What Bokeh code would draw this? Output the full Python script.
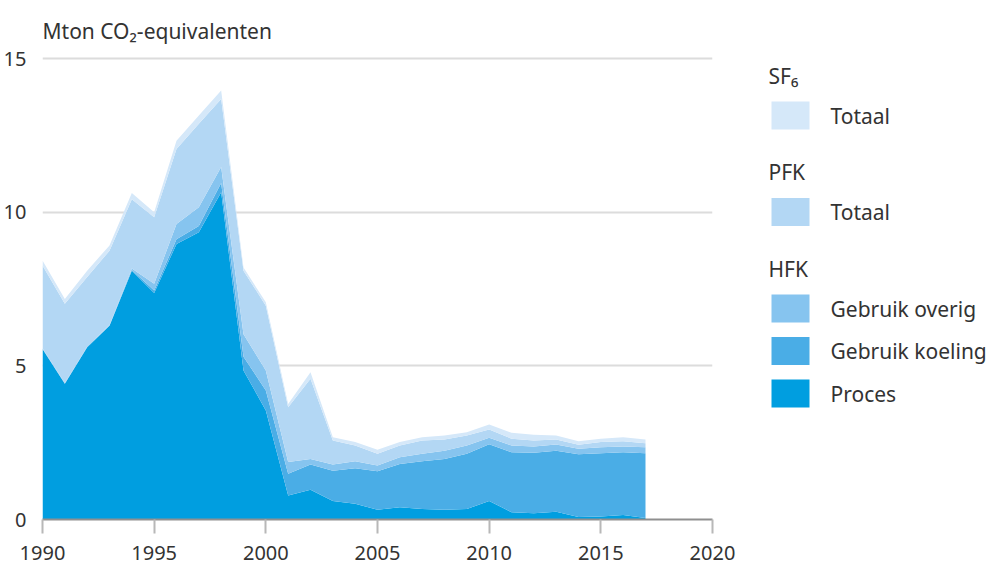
from bokeh.plotting import figure
from bokeh.models import ColumnDataSource, Range1d, FixedTicker
from bokeh.layouts import row
from bokeh.embed import file_html
from bokeh.resources import INLINE
from bokeh.core.properties import value

years = list(range(1990, 2018))
proces = [5.55, 4.42, 5.61, 6.31, 8.10, 7.37, 8.97, 9.35, 10.65, 4.85, 3.55, 0.78, 0.97, 0.60,
          0.51, 0.32, 0.40, 0.34, 0.32, 0.34, 0.60, 0.24, 0.20, 0.25, 0.08, 0.10, 0.15, 0.05]
koeling = [0.0, 0.0, 0.0, 0.0, 0.02, 0.08, 0.15, 0.20, 0.30, 0.45, 0.65, 0.71, 0.82, 0.99,
           1.16, 1.25, 1.41, 1.56, 1.65, 1.80, 1.85, 1.95, 1.97, 1.99, 2.04, 2.06, 2.04, 2.11]
overig = [0.02, 0.02, 0.02, 0.02, 0.05, 0.22, 0.50, 0.61, 0.52, 0.73, 0.65, 0.38, 0.18, 0.20,
          0.23, 0.19, 0.22, 0.24, 0.27, 0.27, 0.21, 0.22, 0.21, 0.20, 0.18, 0.19, 0.19, 0.19]
pfk = [2.70, 2.58, 2.26, 2.42, 2.25, 2.17, 2.44, 2.72, 2.22, 2.07, 2.11, 1.78, 2.61, 0.78,
       0.51, 0.38, 0.38, 0.43, 0.36, 0.32, 0.27, 0.22, 0.19, 0.16, 0.13, 0.17, 0.17, 0.13]
sf6 = [0.16, 0.16, 0.21, 0.17, 0.21, 0.16, 0.27, 0.27, 0.27, 0.10, 0.11, 0.11, 0.21, 0.11,
       0.11, 0.13, 0.11, 0.11, 0.13, 0.11, 0.16, 0.19, 0.19, 0.13, 0.12, 0.11, 0.13, 0.12]

series_keys = ["proces", "koeling", "overig", "pfk", "sf6"]
series_colors = ["#009ee0", "#4aade6", "#86c4ef", "#b3d7f4", "#d5e8f9"]

x_ticks = [1990, 1995, 2000, 2005, 2010, 2015, 2020]
y_ticks = [0, 5, 10, 15]

legend_groups = [("SF₆", [("Totaal", "#d5e8f9")]),
                 ("PFK", [("Totaal", "#b3d7f4")]),
                 ("HFK", [("Gebruik overig", "#86c4ef"),
                          ("Gebruik koeling", "#4aade6"),
                          ("Proces", "#009ee0")])]

FONT = "Noto Sans"
TXT = "#333333"

source = ColumnDataSource(dict(year=years, proces=proces, koeling=koeling,
                               overig=overig, pfk=pfk, sf6=sf6))

W1, W2, H = 740, 249, 569
TOP, BOTTOM = 52, 519
p = figure(width=W1, height=H, output_backend="svg", toolbar_location=None,
           x_range=Range1d(1990, 2020), y_range=Range1d(0, 15.2),
           min_border_left=42, min_border_right=28, min_border_top=TOP,
           min_border_bottom=H - BOTTOM)
p.outline_line_color = None
p.background_fill_color = "white"
p.varea_stack(stackers=series_keys, x="year", color=series_colors, source=source)

p.title.text = "Mton CO₂-equivalenten"
p.title.text_font = FONT
p.title.text_font_size = "21px"
p.title.text_font_style = "normal"
p.title.text_color = TXT
p.title.align = "left"
p.title.standoff = 15

p.xgrid.grid_line_color = None
p.ygrid.ticker = FixedTicker(ticks=[5, 10, 15])
p.ygrid.grid_line_color = "#dcdcdc"
p.ygrid.grid_line_width = 2

xa = p.xaxis[0]
xa.ticker = FixedTicker(ticks=x_ticks)
xa.axis_line_color = "#8f8f8f"
xa.axis_line_width = 2
xa.major_tick_line_color = "#b8b8b8"
xa.major_tick_line_width = 2
xa.major_tick_out = 14
xa.major_tick_in = 0
xa.minor_tick_line_color = None
xa.major_label_text_font = FONT
xa.major_label_text_font_size = "20px"
xa.major_label_text_color = TXT
xa.major_label_standoff = 12

ya = p.yaxis[0]
ya.ticker = FixedTicker(ticks=y_ticks)
ya.axis_line_color = None
ya.major_tick_line_color = None
ya.minor_tick_line_color = None
ya.major_label_text_font = FONT
ya.major_label_text_font_size = "20px"
ya.major_label_text_color = TXT
ya.major_label_standoff = 10

# legend panel: its frame is aligned with the main frame, ranges map 1:1 to canvas px
lg = figure(width=W2, height=H, output_backend="svg", toolbar_location=None,
            x_range=Range1d(W1, W1 + W2), y_range=Range1d(BOTTOM, TOP),
            x_axis_location=None, y_axis_location=None,
            min_border_left=0, min_border_right=0,
            min_border_top=TOP, min_border_bottom=H - BOTTOM)
lg.grid.visible = False
lg.outline_line_color = None

head_x, sw_x, txt_x = 768, 790, 830
hy, hx_t, sy, sc, tt = [], [], [], [], []
y = 75
for head, items in legend_groups:
    hy.append(y)
    hx_t.append(head)
    y += 40
    for label, col in items:
        sy.append(y)
        sc.append(col)
        tt.append(label)
        y += 42.5
    y += 14

lg.text(x=[head_x] * len(hy), y=hy, text=hx_t, text_font=value(FONT),
        text_font_size="21px", text_color=TXT, text_baseline="middle", text_align="left")
lg.rect(x=[sw_x] * len(sy), y=sy, width=38, height=28, fill_color=sc, line_color=None)
lg.text(x=[txt_x] * len(sy), y=sy, text=tt, text_font=value(FONT),
        text_font_size="21px", text_color=TXT, text_baseline="middle", text_align="left")

layout = row(p, lg)
open("out.html", "w").write(file_html(layout, INLINE))
